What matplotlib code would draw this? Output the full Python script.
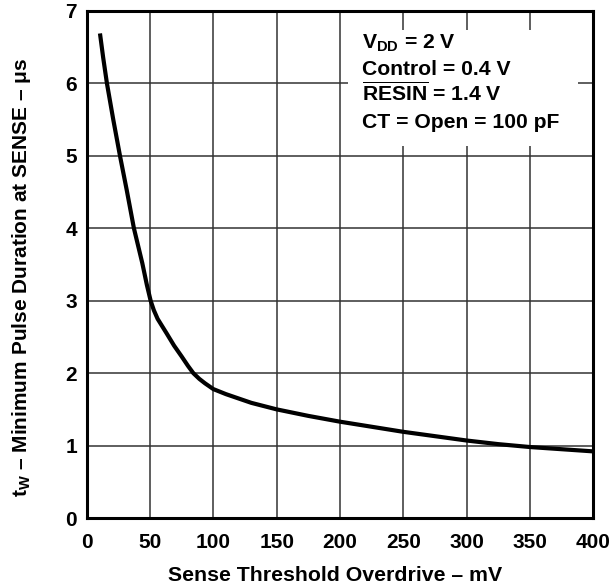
import matplotlib
matplotlib.use("Agg")
import matplotlib.pyplot as plt
from matplotlib.patches import Rectangle

plt.rcParams['font.family'] = ['Liberation Sans', 'DejaVu Sans']
plt.rcParams['font.weight'] = 'bold'
plt.rcParams['mathtext.fontset'] = 'custom'
plt.rcParams['mathtext.rm'] = 'Liberation Sans:bold'
plt.rcParams['mathtext.bf'] = 'Liberation Sans:bold'
plt.rcParams['mathtext.it'] = 'Liberation Sans:bold'

# Data
overdrive_mv = [10.5, 13, 16, 21, 26.3, 31.6, 37.3, 43.9, 47.5, 50.5, 53, 56, 63.1, 69, 75, 80, 84.2, 89, 93.4, 100,
                110, 120, 130, 150, 175, 200, 225, 250, 275, 300, 325, 350, 375, 400]
pulse_us = [6.69, 6.36, 6.0, 5.5, 5.0, 4.53, 4.0, 3.52, 3.22, 3.0, 2.87, 2.75, 2.55, 2.38, 2.23, 2.10, 2.0, 1.92, 1.86, 1.78,
            1.71, 1.65, 1.59, 1.50, 1.41, 1.33, 1.26, 1.19, 1.13, 1.07, 1.02, 0.98, 0.95, 0.92]

x_ticks = [0, 50, 100, 150, 200, 250, 300, 350, 400]
y_ticks = [0, 1, 2, 3, 4, 5, 6, 7]

conditions = [r"V$_{\mathbf{DD}}$ = 2 V",
              "Control = 0.4 V",
              r"$\overline{\mathbf{RESIN}}$ = 1.4 V",
              "CT = Open = 100 pF"]

fig = plt.figure(figsize=(6.16, 5.87), dpi=100)
ax = fig.add_axes([0.1407, 0.1175, 0.8225, 0.8638])

ax.set_xlim(0, 400)
ax.set_ylim(0, 7)
ax.set_xticks(x_ticks)
ax.set_yticks(y_ticks)
ax.grid(True, color='#333333', linewidth=1.1)
ax.set_axisbelow(True)
for s in ax.spines.values():
    s.set_linewidth(2.2)
    s.set_color('black')
ax.tick_params(length=0, labelsize=15)
ax.tick_params(axis='x', pad=11)
ax.tick_params(axis='y', pad=7)
for lab in ax.get_xticklabels() + ax.get_yticklabels():
    lab.set_fontweight('bold')

ax.plot(overdrive_mv, pulse_us, color='black', linewidth=3.0, solid_capstyle='butt',
        solid_joinstyle='round', zorder=4)

ax.add_patch(Rectangle((0.516, 0.734), 0.454, 0.229, transform=ax.transAxes,
                       facecolor='white', edgecolor='none', zorder=3))
ys = [0.925, 0.873, 0.822, 0.770]
for t, yy in zip(conditions, ys):
    ax.text(0.544, yy, t, transform=ax.transAxes, fontsize=15.2, fontweight='bold',
            ha='left', va='baseline', zorder=5)

ax.set_xlabel("Sense Threshold Overdrive \u2013 mV", fontsize=15.3, fontweight='bold')
ax.xaxis.set_label_coords(0.49, -0.095)
ax.set_ylabel(r"t$_{\mathbf{W}}$" + " \u2013 Minimum Pulse Duration at SENSE \u2013 \u03bcs",
              fontsize=15, fontweight='bold')
ax.yaxis.set_label_coords(-0.105, 0.475)

fig.savefig("out.png", dpi=100)
